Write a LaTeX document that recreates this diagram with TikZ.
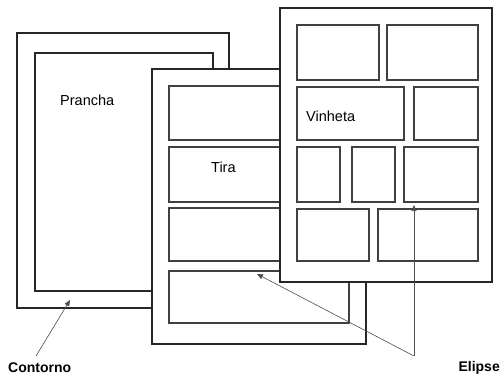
\documentclass[tikz,border=0pt]{standalone}
\usepackage{fontspec}
\setmainfont{Liberation Sans}
\usetikzlibrary{arrows.meta}

\begin{document}
\begin{tikzpicture}[x=1pt, y=-1pt,
  sheet/.style={draw=black!85, fill=white, line width=1.4pt, anchor=north west,
    inner sep=0pt, outer sep=0pt},
  panel/.style={sheet, draw=black!75, line width=1.4pt},
  lbl/.style={font=\fontsize{14.5}{16}\selectfont, inner sep=0pt, anchor=west},
  arr/.style={-{Triangle[length=6pt, width=5pt]}, draw=black!70, line width=0.6pt},
]
\useasboundingbox (0,0) rectangle (502,376);

% prancha
\node[sheet, minimum width=212pt, minimum height=275pt] (prancha) at (17,33) {};
\node[sheet, minimum width=178pt, minimum height=238pt] (mancha) at (35,53) {};

% tiras
\node[sheet, minimum width=214pt, minimum height=275pt] (folha) at (152,69) {};
\foreach \n/\y/\h in {t1/86/54, t2/147/55, t3/208/53, t4/271/52}
  \node[panel, minimum width=180pt, minimum height=\h pt] (\n) at (169,\y) {};

% vinhetas
\node[sheet, minimum width=212pt, minimum height=274pt] (pagina) at (280,8) {};
\foreach \n/\x/\y/\w/\h in {v1/297/25/82/55, v2/387/25/91/55,
    v3/297/87/107/53, v4/414/87/64/53,
    v5/297/147/43/55, v6/352/147/43/55, v7/404/147/74/55,
    v8/297/209/72/52, v9/378/209/100/52}
  \node[panel, minimum width=\w pt, minimum height=\h pt] (\n) at (\x,\y) {};

% textos
\node[lbl] (l-prancha) at (60,100) {Prancha};
\node[lbl] (l-tira) at (211,167) {Tira};
\node[lbl] (l-vinheta) at (306,116) {Vinheta};
\node[lbl, font=\fontsize{14}{16}\selectfont\bfseries] (l-contorno) at (8,368) {Contorno};
\node[lbl, font=\fontsize{14}{16}\selectfont\bfseries, anchor=east] (l-elipse) at (500,368) {Elipse};

% setas
\coordinate (c-pe) at (36,356);
\coordinate (c-gap) at (70,300);
\coordinate (e-pe) at (414,356);
\coordinate (e-v7) at (414,205);
\coordinate (e-t4) at (257,274);
\draw[arr] (c-pe) -- (c-gap);
\draw[arr] (e-pe) -- (e-v7);
\draw[arr] (e-pe) -- (e-t4);
\end{tikzpicture}
\end{document}
